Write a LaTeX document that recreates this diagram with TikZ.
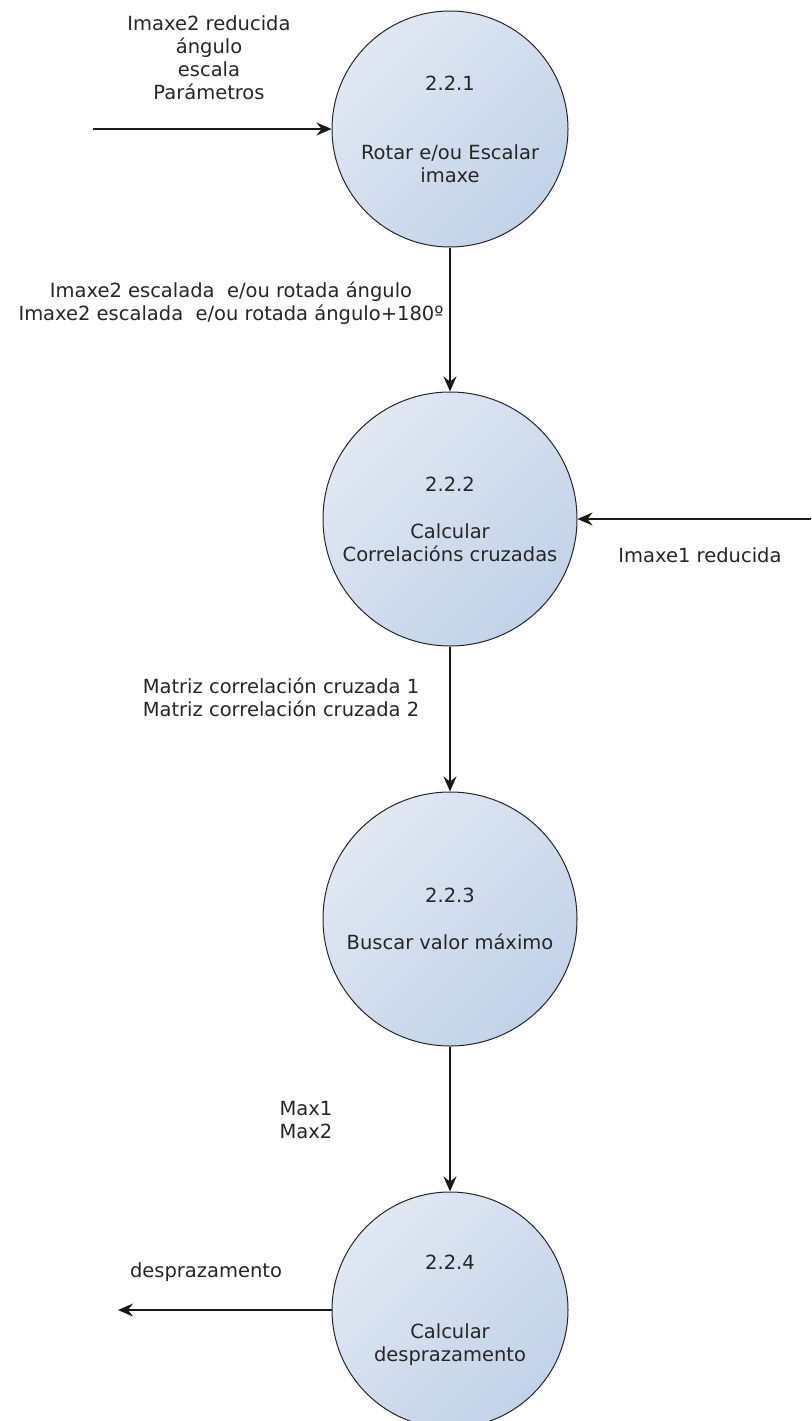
\documentclass[tikz,border=0pt]{standalone}
\usepackage{fontspec}
\setmainfont{DejaVu Sans}
\usetikzlibrary{arrows.meta, positioning}
\definecolor{procLight}{HTML}{E0E8F3}
\definecolor{procDark}{HTML}{C2D2E8}
\newcommand{\dfdfont}{\fontsize{19.5}{23}\selectfont}

\begin{document}
\begin{tikzpicture}[x=1pt, y=-1pt,
  process/.style={circle, draw=black!85, line width=1pt, top color=procLight,
    bottom color=procDark, shading angle=45, minimum size=#1, inner sep=0pt,
    align=center, font=\dfdfont, text=black!85},
  flow/.style={-{Stealth[length=15pt, width=13pt, inset=5pt]}, line width=1.3pt, black!90},
  lbl/.style={align=center, font=\dfdfont, text=black!85, inner sep=0pt},
]

\useasboundingbox (0,0) rectangle (811,1421);
\clip (0,0) rectangle (811,1421);

\node[process=236] (p1) at (450,129) {2.2.1\\[46pt]Rotar e/ou Escalar\\imaxe};
\node[process=254] (p2) at (450,519) {2.2.2\\[24pt]Calcular\\Correlacións cruzadas};
\node[process=254] (p3) at (450,919) {2.2.3\\[24pt]Buscar valor máximo};
\node[process=236] (p4) at (450,1310) {2.2.4\\[46pt]Calcular\\desprazamento};

\coordinate (inStart) at (93,129);
\coordinate (refStart) at (811,519);
\coordinate (outEnd) at (118,1310);

\node[lbl] (inLbl) at (209,58) {Imaxe2 reducida\\ángulo\\escala\\Parámetros};
\node[lbl] (rotLbl) at (231,303) {Imaxe2 escalada \ e/ou rotada ángulo\\Imaxe2 escalada \ e/ou rotada ángulo+180º};
\node[lbl] (refLbl) at (700,555) {Imaxe1 reducida};
\node[lbl] (corrLbl) at (281,697) {Matriz correlación cruzada 1\\Matriz correlación cruzada 2};
\node[lbl] (maxLbl) at (306,1120) {Max1\\Max2};
\node[lbl] (outLbl) at (206,1272) {desprazamento};

\draw[flow] (inStart) -- (p1);
\draw[flow] (p1) -- (p2);
\draw[flow] (refStart) -- (p2);
\draw[flow] (p2) -- (p3);
\draw[flow] (p3) -- (p4);
\draw[flow] (p4) -- (outEnd);

\end{tikzpicture}
\end{document}
